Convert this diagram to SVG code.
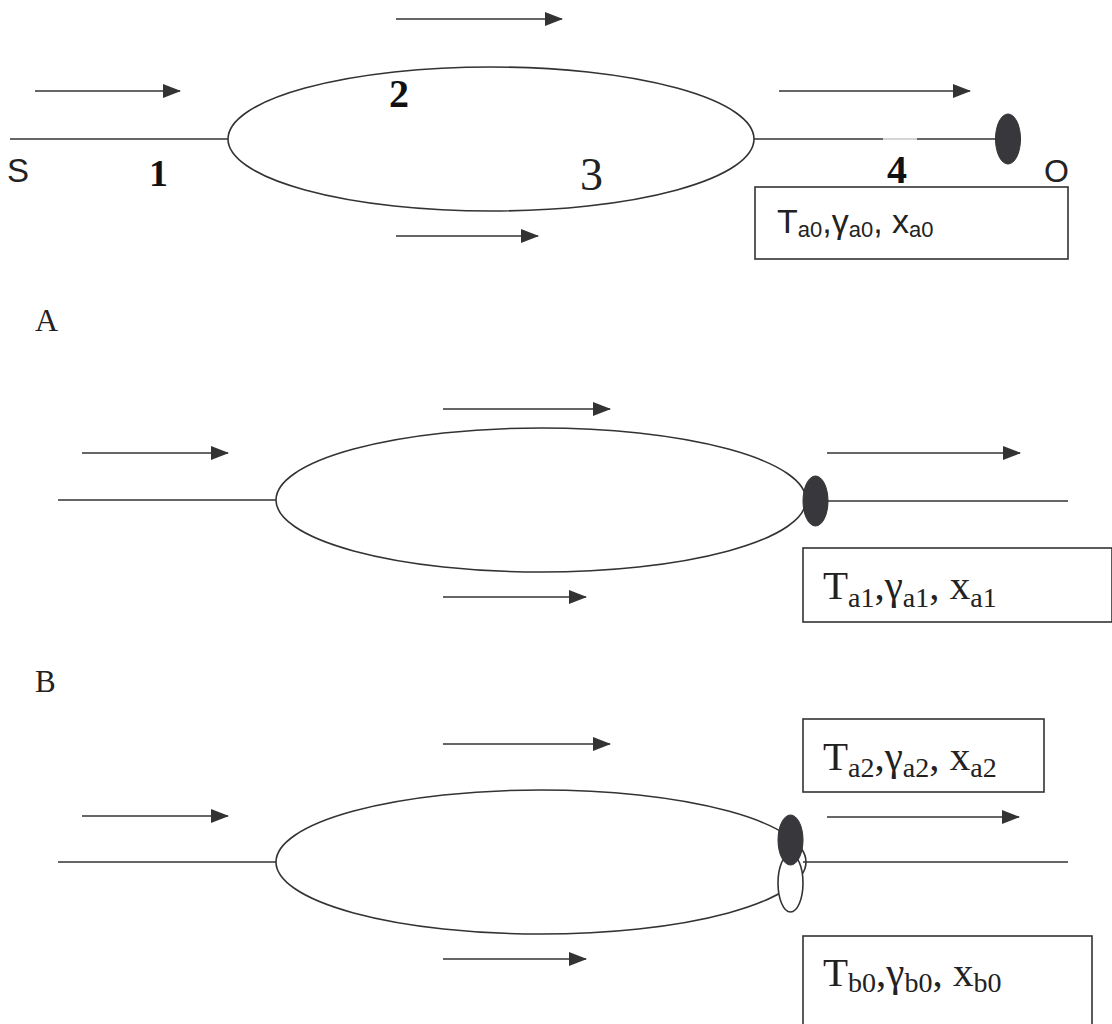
<svg xmlns="http://www.w3.org/2000/svg" width="1112" height="1024" viewBox="0 0 1112 1024">
  <style>
    .ln { stroke: #333; stroke-width: 1.6; fill: none; }
    .arr { stroke: #333; stroke-width: 1.6; fill: none; marker-end: url(#head); }
    .ring { stroke: #333; stroke-width: 1.6; fill: none; }
    .dot { fill: #38373c; stroke: #333; stroke-width: 1; }
    .hole { fill: #fff; stroke: #333; stroke-width: 1.6; }
    .box { fill: #fff; stroke: #333; stroke-width: 1.6; }
    .sans { font-family: "Liberation Sans", Arial, sans-serif; fill: #222; }
    .serif { font-family: "Liberation Serif", "Times New Roman", serif; fill: #222; }
    .num { font-family: "Liberation Serif", "Times New Roman", serif; font-weight: bold; fill: #111; }
    .sub { font-size: 28px; }
    .subs { font-size: 22px; }
  </style>
  <defs>
    <marker id="head" markerWidth="18" markerHeight="14" refX="17" refY="7" orient="auto" markerUnits="userSpaceOnUse">
      <path d="M0,0 L18,7 L0,14 Z" fill="#333"/>
    </marker>
  </defs>

  <rect width="1112" height="1024" fill="#fff"/>

  <!-- Panel 0: initial state -->
  <g id="panel0">
    <g id="panel0-connectors">
      <line class="arr" x1="396" y1="19" x2="562" y2="19"/>
      <line class="arr" x1="35" y1="91" x2="180" y2="91"/>
      <line class="arr" x1="779" y1="91" x2="970" y2="91"/>
      <line class="arr" x1="396" y1="236" x2="538" y2="236"/>
      <line class="ln" x1="10" y1="139" x2="228" y2="139"/>
      <line class="ln" x1="754" y1="139" x2="883" y2="139"/>
      <line x1="883" y1="139" x2="917" y2="139" stroke="#aaa" stroke-width="1"/>
      <line class="ln" x1="917" y1="139" x2="998" y2="139"/>
    </g>
    <g id="loop0">
      <ellipse class="ring" cx="491" cy="139" rx="263" ry="72"/>
    </g>
    <g id="front0">
      <ellipse class="dot" cx="1008" cy="139" rx="12.5" ry="25"/>
    </g>
    <text class="sans" x="7" y="182" font-size="33">S</text>
    <text class="sans" x="1044" y="182" font-size="32">O</text>
    <text class="num" x="149" y="186" font-size="38">1</text>
    <text class="num" x="389" y="107" font-size="40">2</text>
    <text class="serif" x="580" y="190" font-size="46">3</text>
    <text class="num" x="887" y="183" font-size="40">4</text>
    <g id="state-a0">
      <rect class="box" x="755" y="187" width="313" height="72"/>
      <text class="sans" x="777" y="233" font-size="34">T<tspan class="subs" dy="4">a0</tspan><tspan dy="-4">,γ</tspan><tspan class="subs" dy="4">a0</tspan><tspan dy="-4">, x</tspan><tspan class="subs" dy="4">a0</tspan></text>
    </g>
  </g>

  <text class="serif" x="35" y="331" font-size="32">A</text>

  <!-- Panel A -->
  <g id="panelA">
    <g id="panelA-connectors">
      <line class="arr" x1="443" y1="409" x2="610" y2="409"/>
      <line class="arr" x1="82" y1="453" x2="228" y2="453"/>
      <line class="arr" x1="827" y1="453" x2="1020" y2="453"/>
      <line class="arr" x1="443" y1="597" x2="586" y2="597"/>
      <line class="ln" x1="58" y1="500" x2="276" y2="500"/>
      <line class="ln" x1="826" y1="501" x2="1068" y2="501"/>
    </g>
    <g id="loopA">
      <ellipse class="ring" cx="541" cy="500" rx="265" ry="72"/>
    </g>
    <g id="frontA">
      <ellipse class="dot" cx="815.5" cy="501" rx="12.5" ry="25"/>
    </g>
    <g id="state-a1">
      <rect class="box" x="803" y="548" width="309" height="74"/>
      <text class="serif" x="823" y="599" font-size="41">T<tspan class="sub" dy="8">a1</tspan><tspan dy="-8">,γ</tspan><tspan class="sub" dy="8">a1</tspan><tspan dy="-8">, x</tspan><tspan class="sub" dy="8">a1</tspan></text>
    </g>
  </g>

  <text class="serif" x="35" y="692" font-size="31">B</text>

  <!-- Panel B -->
  <g id="panelB">
    <g id="panelB-connectors">
      <line class="arr" x1="443" y1="744" x2="610" y2="744"/>
      <line class="arr" x1="82" y1="816" x2="228" y2="816"/>
      <line class="arr" x1="827" y1="817" x2="1019" y2="817"/>
      <line class="arr" x1="443" y1="959" x2="586" y2="959"/>
      <line class="ln" x1="58" y1="862" x2="276" y2="862"/>
      <line class="ln" x1="803" y1="862" x2="1068" y2="862"/>
    </g>
    <g id="loopB">
      <ellipse class="ring" cx="541" cy="862" rx="265" ry="72"/>
    </g>
    <g id="frontB">
      <ellipse class="hole" cx="790.5" cy="883" rx="12.5" ry="29"/>
      <ellipse class="dot" cx="790.5" cy="840" rx="12.5" ry="25"/>
    </g>
    <g id="state-a2">
      <rect class="box" x="803" y="719" width="241" height="73"/>
      <text class="serif" x="823" y="770" font-size="41">T<tspan class="sub" dy="7">a2</tspan><tspan dy="-7">,γ</tspan><tspan class="sub" dy="7">a2</tspan><tspan dy="-7">, x</tspan><tspan class="sub" dy="7">a2</tspan></text>
    </g>
    <g id="state-b0">
      <rect class="box" x="803" y="936" width="289" height="100"/>
      <text class="serif" x="823" y="986" font-size="41">T<tspan class="sub" dy="6">b0</tspan><tspan dy="-6">,γ</tspan><tspan class="sub" dy="6">b0</tspan><tspan dy="-6">, x</tspan><tspan class="sub" dy="6">b0</tspan></text>
    </g>
  </g>
</svg>
